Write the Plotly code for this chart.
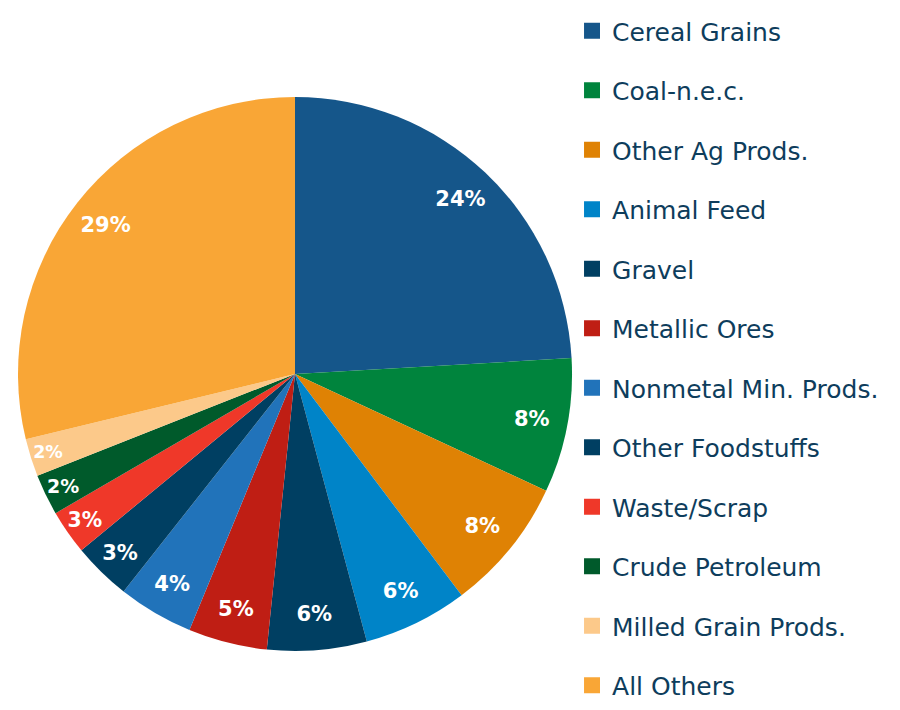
import plotly.graph_objects as go

# commodity shares (percent)
labels = ['Cereal Grains', 'Coal-n.e.c.', 'Other Ag Prods.', 'Animal Feed', 'Gravel',
          'Metallic Ores', 'Nonmetal Min. Prods.', 'Other Foodstuffs', 'Waste/Scrap',
          'Crude Petroleum', 'Milled Grain Prods.', 'All Others']
shares = [24.1, 7.85, 7.8, 6.1, 5.8, 4.6, 4.4, 3.4, 2.6, 2.4, 2.2, 28.8]
colors = ['#15568a', '#00843d', '#df8204', '#0084c8', '#003f62', '#bf1e14',
          '#2173ba', '#003f62', '#ef3829', '#005a2b', '#fcc98a', '#f9a636']

dom = dict(x=[0.0111, 0.6267], y=[0.0944, 0.8747])

fig = go.Figure()
fig.add_trace(go.Pie(
    labels=labels, values=shares, sort=False, direction='clockwise', rotation=0,
    marker=dict(colors=colors, line=dict(width=0)),
    textinfo='none', hoverinfo='skip', domain=dom, showlegend=False,
))
# transparent ring on top, only to put the percentages near the rim
fig.add_trace(go.Pie(
    labels=labels, values=shares, sort=False, direction='clockwise', rotation=0,
    hole=0.74,
    marker=dict(colors=['rgba(0,0,0,0)'] * len(labels), line=dict(width=0)),
    texttemplate='%{percent:.0%}',
    textposition='inside',
    insidetextorientation='horizontal',
    textfont=dict(family='DejaVu Sans', size=21, color='white', weight='bold'),
    hoverinfo='label+percent', domain=dom, showlegend=False,
))

# legend entries (one group each so the spacing can be set)
for lab, col in zip(labels, colors):
    fig.add_trace(go.Scatter(
        x=[None], y=[None], mode='markers', name=lab, legendgroup=lab,
        marker=dict(symbol='square', size=16, color=col),
    ))

fig.update_layout(
    width=900, height=710,
    margin=dict(l=0, r=0, t=0, b=0),
    paper_bgcolor='white', plot_bgcolor='white',
    font=dict(family='DejaVu Sans', color='#0e3d5c'),
    xaxis=dict(visible=False), yaxis=dict(visible=False),
    legend=dict(x=0.6267, y=1.0, xanchor='left', yanchor='top',
                tracegroupgap=24, itemsizing='trace',
                font=dict(size=25, color='#0e3d5c'), bgcolor='rgba(0,0,0,0)'),
)

fig.write_html('out.html')
